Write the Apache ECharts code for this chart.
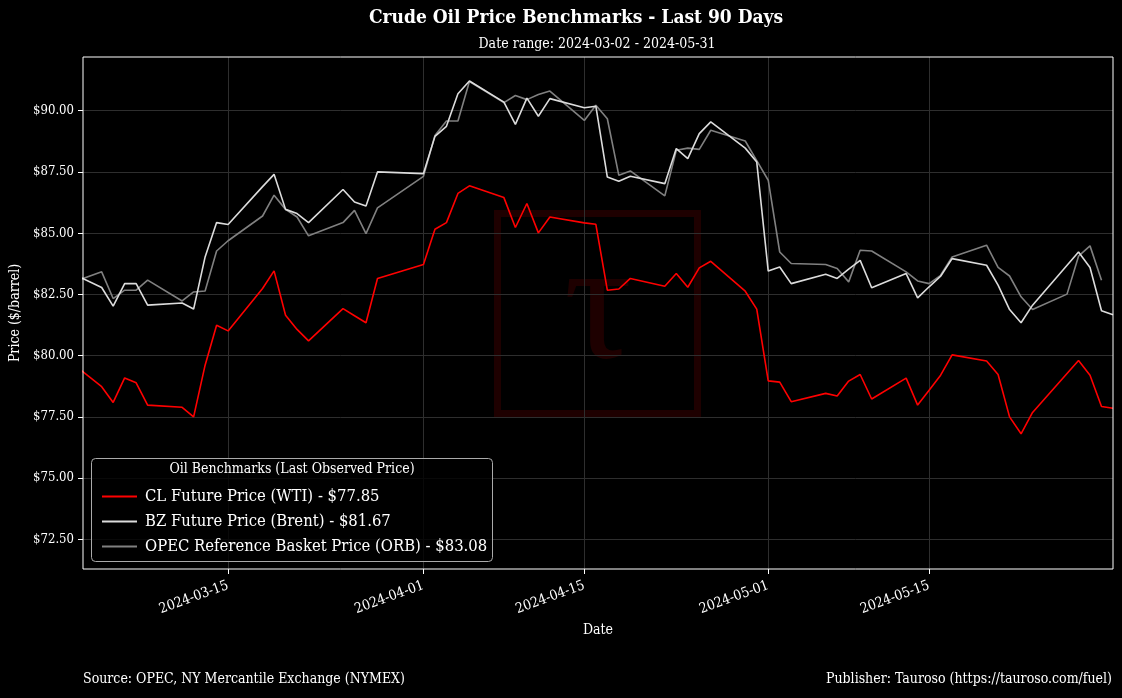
<!DOCTYPE html>
<html>
<head>
<meta charset="utf-8">
<title>Crude Oil Price Benchmarks</title>
<script src="https://cdn.jsdelivr.net/npm/echarts@6/dist/echarts.min.js"></script>
<style>
  html, body { margin: 0; padding: 0; background: #000; }
  #chart { width: 1122px; height: 698px; }
</style>
</head>
<body>
<div id="chart"></div>
<script>
// trading days for the futures (WTI and Brent)
var futuresDates = [
  '2024-03-01', '2024-03-04', '2024-03-05', '2024-03-06', '2024-03-07', '2024-03-08',
  '2024-03-11', '2024-03-12', '2024-03-13', '2024-03-14', '2024-03-15',
  '2024-03-18', '2024-03-19', '2024-03-20', '2024-03-21', '2024-03-22',
  '2024-03-25', '2024-03-26', '2024-03-27', '2024-03-28',
  '2024-04-01', '2024-04-02', '2024-04-03', '2024-04-04', '2024-04-05',
  '2024-04-08', '2024-04-09', '2024-04-10', '2024-04-11', '2024-04-12',
  '2024-04-15', '2024-04-16', '2024-04-17', '2024-04-18', '2024-04-19',
  '2024-04-22', '2024-04-23', '2024-04-24', '2024-04-25', '2024-04-26',
  '2024-04-29', '2024-04-30', '2024-05-01', '2024-05-02', '2024-05-03',
  '2024-05-06', '2024-05-07', '2024-05-08', '2024-05-09', '2024-05-10',
  '2024-05-13', '2024-05-14', '2024-05-15', '2024-05-16', '2024-05-17',
  '2024-05-20', '2024-05-21', '2024-05-22', '2024-05-23', '2024-05-24',
  '2024-05-28', '2024-05-29', '2024-05-30', '2024-05-31'
]
var wtiValues = [
  79.85, 78.73, 78.09, 79.09, 78.89, 77.98,
  77.89, 77.50, 79.61, 81.24, 81.01,
  82.74, 83.46, 81.65, 81.07, 80.60,
  81.92, 81.63, 81.34, 83.15,
  83.72, 85.16, 85.43, 86.62, 86.93,
  86.45, 85.23, 86.21, 85.01, 85.66,
  85.42, 85.36, 82.67, 82.72, 83.15,
  82.83, 83.35, 82.79, 83.58, 83.85,
  82.63, 81.90, 78.97, 78.92, 78.12,
  78.46, 78.35, 78.96, 79.23, 78.23,
  79.08, 77.98, 78.59, 79.20, 80.03,
  79.78, 79.23, 77.50, 76.81, 77.68,
  79.80, 79.20, 77.92, 77.85
]
var brentValues = [
  83.46, 82.78, 82.02, 82.94, 82.94, 82.06,
  82.15, 81.90, 84.03, 85.43, 85.35,
  86.90, 87.40, 85.97, 85.80, 85.43,
  86.78, 86.27, 86.11, 87.50,
  87.43, 88.95, 89.36, 90.69, 91.21,
  90.35, 89.44, 90.51, 89.77, 90.49,
  90.12, 90.18, 87.29, 87.12, 87.32,
  87.02, 88.45, 88.04, 89.06, 89.54,
  88.47, 87.90, 83.45, 83.62, 82.94,
  83.32, 83.15, 83.53, 83.89, 82.77,
  83.35, 82.36, 82.81, 83.24, 83.96,
  83.69, 82.88, 81.88, 81.34, 82.06,
  84.23, 83.60, 81.83, 81.67
]
// OPEC basket is published on its own calendar
var orbDates = [
  '2024-03-01', '2024-03-04', '2024-03-05', '2024-03-06', '2024-03-07', '2024-03-08',
  '2024-03-11', '2024-03-12', '2024-03-13', '2024-03-14', '2024-03-15',
  '2024-03-18', '2024-03-19', '2024-03-20', '2024-03-21', '2024-03-22',
  '2024-03-25', '2024-03-26', '2024-03-27', '2024-03-28',
  '2024-04-01', '2024-04-02', '2024-04-03', '2024-04-04', '2024-04-05',
  '2024-04-08', '2024-04-09', '2024-04-10', '2024-04-11', '2024-04-12',
  '2024-04-15', '2024-04-16', '2024-04-17', '2024-04-18', '2024-04-19',
  '2024-04-22', '2024-04-23', '2024-04-24', '2024-04-25', '2024-04-26',
  '2024-04-29', '2024-04-30', '2024-05-01', '2024-05-02', '2024-05-03',
  '2024-05-06', '2024-05-07', '2024-05-08', '2024-05-09', '2024-05-10',
  '2024-05-13', '2024-05-14', '2024-05-15', '2024-05-16', '2024-05-17',
  '2024-05-20', '2024-05-21', '2024-05-22', '2024-05-23', '2024-05-24',
  '2024-05-27', '2024-05-28', '2024-05-29', '2024-05-30'
]
var orbValues = [
  82.91, 83.42, 82.33, 82.67, 82.67, 83.08,
  82.23, 82.60, 82.64, 84.27, 84.69,
  85.70, 86.55, 85.97, 85.66, 84.89,
  85.43, 85.93, 84.98, 86.03,
  87.32, 88.99, 89.58, 89.58, 91.19,
  90.33, 90.62, 90.45, 90.66, 90.80,
  89.60, 90.22, 89.67, 87.36, 87.54,
  86.52, 88.38, 88.47, 88.42, 89.20,
  88.76, 87.96, 87.16, 84.23, 83.76,
  83.72, 83.56, 83.01, 84.30, 84.27,
  83.42, 83.05, 82.94, 83.28, 84.03,
  84.51, 83.60, 83.25, 82.40, 81.88,
  82.51, 84.06, 84.48, 83.08
]
var xTickDates = ['2024-03-15', '2024-04-01', '2024-04-15', '2024-05-01', '2024-05-15']
var yTickValues = [72.5, 75, 77.5, 80, 82.5, 85, 87.5, 90]

var FONT = "'DejaVu Serif Condensed', 'DejaVu Serif', serif"

function ts(s) {
  var p = s.split('-')
  return new Date(+p[0], +p[1] - 1, +p[2]).getTime()
}
function pairs(dates, values) {
  return dates.map(function(d, i) { return [ts(d), values[i]] })
}
function lastPrice(values) {
  return '$' + values[values.length - 1].toFixed(2)
}
function pad(n) {
  return n < 10 ? '0' + n : '' + n
}

var names = [
  'CL Future Price (WTI) - ' + lastPrice(wtiValues),
  'BZ Future Price (Brent) - ' + lastPrice(brentValues),
  'OPEC Reference Basket Price (ORB) - ' + lastPrice(orbValues)
]

var chart = echarts.init(document.getElementById('chart'))

chart.setOption({
  backgroundColor: '#000',
  animation: false,
  textStyle: { fontFamily: FONT },
  grid: {
    left: 83,
    right: 9,
    top: 57,
    bottom: 129,
    outerBoundsMode: 'none',
    containLabel: false,
    show: true,
    borderColor: '#fff',
    borderWidth: 1,
    z: 10
  },
  legend: {
    orient: 'vertical',
    left: 97,
    top: 483,
    z: 50,
    itemWidth: 35,
    itemHeight: 14,
    itemGap: 8,
    icon: 'path://M0,6 L35,6 L35,8 L0,8 Z',
    textStyle: { color: '#fff', fontSize: 16.5, fontFamily: FONT, padding: [0, 0, 0, 3] },
    data: names
  },
  xAxis: {
    // dates as timestamps on a value scale, so the ticks can be placed at fixed dates
    type: 'value',
    min: new Date(2024, 2, 2, 9).getTime(),
    max: ts('2024-05-31'),
    name: 'Date',
    nameLocation: 'middle',
    nameGap: 54,
    nameTextStyle: { color: '#fff', fontSize: 14, fontFamily: FONT },
    axisLine: { show: false },
    axisTick: {
      show: true,
      length: 5,
      lineStyle: { color: '#fff' },
      customValues: xTickDates.map(ts)
    },
    axisLabel: {
      color: '#fff',
      fontSize: 14,
      rotate: 20,
      margin: 16,
      customValues: xTickDates.map(ts),
      formatter: function(v) {
        var d = new Date(v)
        return d.getFullYear() + '-' + pad(d.getMonth() + 1) + '-' + pad(d.getDate())
      }
    },
    splitLine: { show: true, lineStyle: { color: '#2e2e2e', width: 1 } }
  },
  yAxis: {
    type: 'value',
    min: 71.29,
    max: 92.19,
    name: 'Price ($/barrel)',
    nameLocation: 'middle',
    nameGap: 58,
    nameTextStyle: { color: '#fff', fontSize: 14, fontFamily: FONT },
    axisLine: { show: false },
    axisTick: {
      show: true,
      length: 5,
      lineStyle: { color: '#fff' },
      customValues: yTickValues
    },
    axisLabel: {
      color: '#fff',
      fontSize: 13,
      margin: 9,
      customValues: yTickValues,
      formatter: function(v) { return '$' + v.toFixed(2) }
    },
    splitLine: { show: true, lineStyle: { color: '#2e2e2e', width: 1 } }
  },
  graphic: [
    // watermark
    {
      type: 'rect',
      z: -1,
      shape: { x: 497.5, y: 213.5, width: 200, height: 200 },
      style: { fill: 'none', stroke: '#1e0000', lineWidth: 7 },
      silent: true
    },
    {
      type: 'text',
      z: -1,
      x: 598,
      y: 312,
      style: {
        text: 'τ',
        fill: '#1e0000',
        font: '170px "Liberation Serif", serif',
        textAlign: 'center',
        textVerticalAlign: 'middle'
      },
      silent: true
    },
    // titles
    {
      type: 'text',
      x: 576,
      y: 18,
      style: {
        text: 'Crude Oil Price Benchmarks - Last 90 Days',
        fill: '#fff',
        font: 'bold 19px ' + FONT,
        textAlign: 'center',
        textVerticalAlign: 'middle'
      }
    },
    {
      type: 'text',
      x: 597,
      y: 44,
      style: {
        text: 'Date range: 2024-03-02 - 2024-05-31',
        fill: '#fff',
        font: '14px ' + FONT,
        textAlign: 'center',
        textVerticalAlign: 'middle'
      }
    },
    // legend box
    {
      type: 'rect',
      z: 20,
      shape: { x: 91.5, y: 458.5, width: 401, height: 103, r: 4 },
      style: { fill: 'rgba(0,0,0,0.8)', stroke: '#aaa', lineWidth: 1 }
    },
    {
      type: 'text',
      z: 60,
      x: 292,
      y: 469,
      style: {
        text: 'Oil Benchmarks (Last Observed Price)',
        fill: '#fff',
        font: '14px ' + FONT,
        textAlign: 'center',
        textVerticalAlign: 'middle'
      }
    },
    // footer
    {
      type: 'text',
      x: 83,
      y: 679,
      style: {
        text: 'Source: OPEC, NY Mercantile Exchange (NYMEX)',
        fill: '#fff',
        font: '14px ' + FONT,
        textAlign: 'left',
        textVerticalAlign: 'middle'
      }
    },
    {
      type: 'text',
      x: 1112,
      y: 679,
      style: {
        text: 'Publisher: Tauroso (https://tauroso.com/fuel)',
        fill: '#fff',
        font: '14px ' + FONT,
        textAlign: 'right',
        textVerticalAlign: 'middle'
      }
    }
  ],
  series: [
    {
      name: names[0],
      type: 'line',
      symbol: 'none',
      clip: true,
      z: 5,
      lineStyle: { color: '#ff0000', width: 1.6 },
      itemStyle: { color: '#ff0000' },
      data: pairs(futuresDates, wtiValues)
    },
    {
      name: names[1],
      type: 'line',
      symbol: 'none',
      clip: true,
      z: 4,
      lineStyle: { color: '#dcdcdc', width: 1.6 },
      itemStyle: { color: '#dcdcdc' },
      data: pairs(futuresDates, brentValues)
    },
    {
      name: names[2],
      type: 'line',
      symbol: 'none',
      clip: true,
      z: 3,
      lineStyle: { color: '#808080', width: 1.6 },
      itemStyle: { color: '#808080' },
      data: pairs(orbDates, orbValues)
    }
  ]
})
</script>
</body>
</html>
